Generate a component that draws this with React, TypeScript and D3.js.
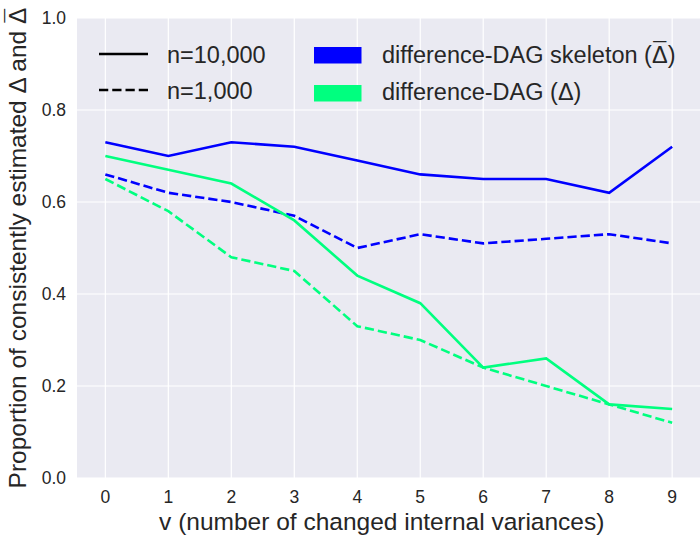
import * as d3 from 'd3';
import * as React from 'react';

const vValues = [0, 1, 2, 3, 4, 5, 6, 7, 8, 9];
const skeleton10000 = [0.73, 0.70, 0.73, 0.72, 0.69, 0.66, 0.65, 0.65, 0.62, 0.72];
const skeleton1000 = [0.66, 0.62, 0.60, 0.57, 0.50, 0.53, 0.51, 0.52, 0.53, 0.51];
const dag10000 = [0.70, 0.67, 0.64, 0.56, 0.44, 0.38, 0.24, 0.26, 0.16, 0.15];
const dag1000 = [0.65, 0.58, 0.48, 0.45, 0.33, 0.30, 0.24, 0.20, 0.16, 0.12];
const yTicks = [0, 0.2, 0.4, 0.6, 0.8, 1.0];

const BLUE = '#0000ff';
const GREEN = '#00ff7f';
const TEXT = '#262626';
const FONT = '"Liberation Sans", Arial, sans-serif';

const W = 700;
const H = 536;
const left = 77;
const right = 700.5;
const top = 18;
const bottom = 478;

const series = [
  { values: skeleton10000, color: BLUE, dashed: false },
  { values: skeleton1000, color: BLUE, dashed: true },
  { values: dag10000, color: GREEN, dashed: false },
  { values: dag1000, color: GREEN, dashed: true },
];

export default function App() {
  const x = d3.scaleLinear().domain([-0.45, 9.45]).range([left, right]);
  const y = d3.scaleLinear().domain([0, 1]).range([bottom, top]);
  const line = d3.line<number>()
    .x((d, i) => x(vValues[i]))
    .y(d => y(d));

  return (
    <div style={{ position: 'absolute', left: 0, top: 0 }}>
      <svg width={W} height={H} style={{ display: 'block', fontFamily: FONT }}>
        <rect x={0} y={0} width={W} height={H} fill='#ffffff' />
        <rect x={left} y={top} width={right - left} height={bottom - top} fill='#eaeaf2' />
        {vValues.map(v => (
          <line key={'gx' + v} x1={x(v)} x2={x(v)} y1={top} y2={bottom} stroke='#ffffff' strokeWidth={1.2} />
        ))}
        {yTicks.map(t => (
          <line key={'gy' + t} x1={left} x2={right} y1={y(t)} y2={y(t)} stroke='#ffffff' strokeWidth={1.2} />
        ))}

        {series.map((s, i) => (
          <path
            key={i}
            d={line(s.values) || ''}
            fill='none'
            stroke={s.color}
            strokeWidth={2.6}
            strokeDasharray={s.dashed ? '9.25,4' : undefined}
          />
        ))}

        {yTicks.map(t => (
          <text key={'ty' + t} x={66} y={y(t)} textAnchor='end' dominantBaseline='central'
            fontSize={17.5} fill={TEXT}>{t.toFixed(1)}</text>
        ))}
        {vValues.map(v => (
          <text key={'tx' + v} x={x(v)} y={497} textAnchor='middle' dominantBaseline='central'
            fontSize={17.5} fill={TEXT}>{v}</text>
        ))}

        <text x={(left + right) / 2 - 7} y={530} textAnchor='middle'
          fontSize={24.5} fill={TEXT}>v (number of changed internal variances)</text>
        {/* bar over the last Delta: spacing macron pulled back over the glyph */}
        <text transform={`translate(26, ${(top + bottom) / 2}) rotate(-90)`} textAnchor='middle'
          fontSize={24.5} fill={TEXT}>
          <tspan>Proportion of consistently estimated Δ and Δ</tspan>
          <tspan dx='-0.61em' dy='-0.17em'>{'\u00AF'}</tspan>
        </text>

        {/* legend */}
        <line x1={99} x2={148} y1={54} y2={54} stroke='#000' strokeWidth={2.5} />
        <line x1={99} x2={148} y1={90} y2={90} stroke='#000' strokeWidth={2.5} strokeDasharray='9.25,4' />
        <text x={167} y={63} fontSize={23.5} fill={TEXT}>n=10,000</text>
        <text x={167} y={98.5} fontSize={23.5} fill={TEXT}>n=1,000</text>
        <rect x={314} y={47} width={47.5} height={16.5} fill={BLUE} />
        <rect x={314} y={85} width={47.5} height={16.5} fill={GREEN} />
        <text x={382} y={62.5} fontSize={23.5} fill={TEXT}>
          <tspan>difference-DAG skeleton (Δ</tspan>
          <tspan dx='-0.61em' dy='-0.17em'>{'\u00AF'}</tspan>
          <tspan dx='0.058em' dy='0.17em'>)</tspan>
        </text>
        <text x={382} y={100} fontSize={23.5} fill={TEXT}>difference-DAG (Δ)</text>
      </svg>
    </div>
  );
}
